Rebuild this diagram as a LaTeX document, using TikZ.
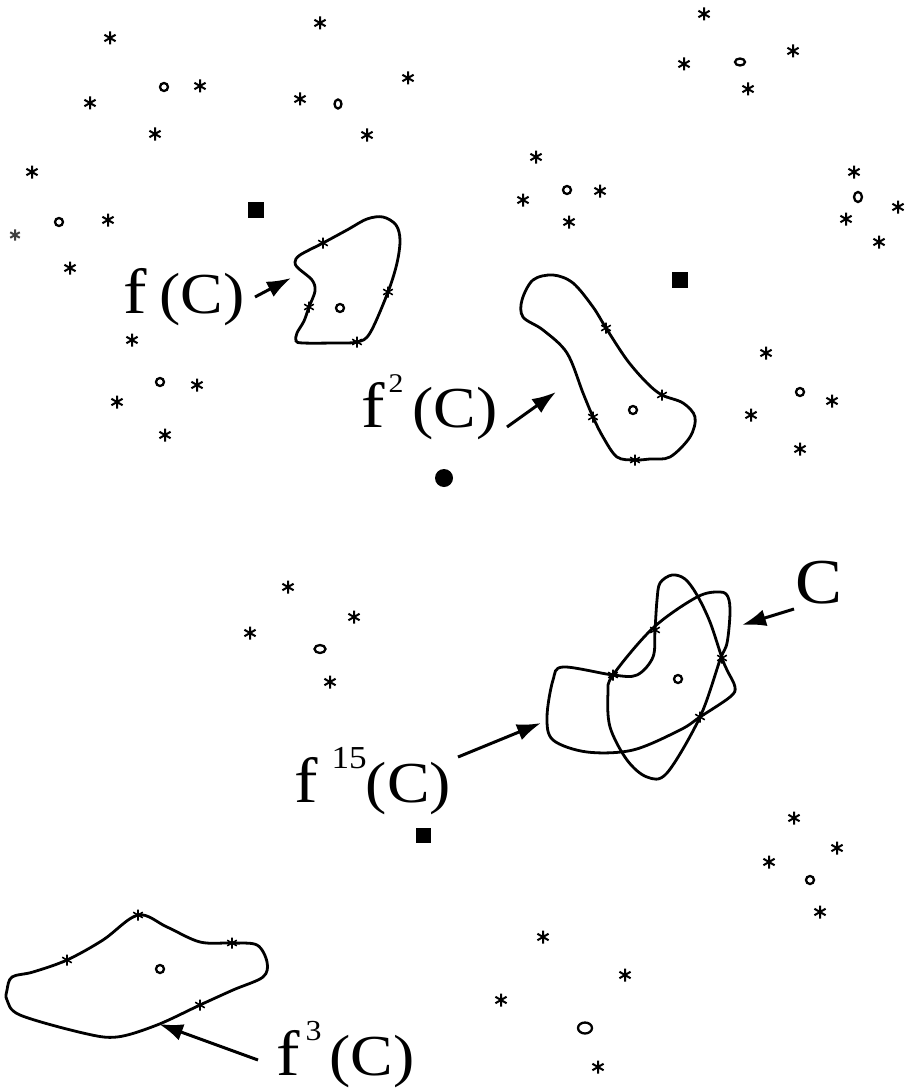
\documentclass[tikz,border=0pt]{standalone}
\usepackage{fontspec}
\setmainfont{Liberation Serif}
\newfontfamily\labfont[FakeStretch=1.1]{Liberation Serif}
\usetikzlibrary{arrows.meta,shapes.geometric}
\newcommand\bigf{{\fontsize{64}{64}\selectfont f}}
\tikzset{
 astk/.pic={\draw[line width=2pt] (0,-6.5)--(0,6.5) (-5.6,-3.25)--(5.6,3.25) (-5.6,3.25)--(5.6,-3.25);},
 castk/.pic={\draw[line width=1.6pt] (0,-5.5)--(0,5.5) (-4.8,-2.75)--(4.8,2.75) (-4.8,2.75)--(4.8,-2.75);},
 orb/.style={draw, line width=2.3pt, ellipse, inner sep=0pt, minimum width=8pt, minimum height=8pt},
 sq/.style={fill=black, inner sep=0pt, minimum size=16pt},
 setline/.style={line width=2.8pt},
 lab/.style={inner sep=0pt, anchor=base west, font=\labfont\fontsize{58}{60}\selectfont},
 arr/.style={line width=3pt, -{Latex[length=24pt,width=17pt]}},
}
\begin{document}
\begin{tikzpicture}[x=1pt,y=-1pt]
\useasboundingbox (0,0) rectangle (907,1089);

% ---- scattered asterisks ----
\foreach \p in {(110,38),(90,103),(200,86),(155,134),
  (320,23),(300,99),(408,78),(367,135),
  (704,14),(684,64),(793,51),(748,89),
  (32,172),(108,220),(70,268),
  (536,157),(523,200),(600,191),(569,222),
  (854,172),(898,207),(846,219),(879,242),
  (132,340),(117,402),(197,385),(165,435),
  (766,353),(751,415),(832,401),(800,449),
  (288,587),(250,633),(354,617),(330,682),
  (794,818),(769,862),(837,848),(820,912),
  (543,937),(625,975),(501,1000),(598,1067)}
  \pic at \p {astk};
\pic[scale=0.85, opacity=0.75] at (15,235) {astk};

% ---- small open circles ----
\node[orb] (o1) at (164,87) {};
\node[orb, minimum width=7pt, minimum height=9pt] (o2) at (338,104) {};
\node[orb, minimum width=10pt, minimum height=7pt] (o3) at (740,62) {};
\node[orb] (o4) at (59,222) {};
\node[orb] (o5) at (567,190) {};
\node[orb, minimum width=8pt, minimum height=10pt] (o6) at (858,197) {};
\node[orb] (o7) at (160,382) {};
\node[orb] (o8) at (800,392) {};
\node[orb, minimum width=11pt, minimum height=8pt] (o9) at (320,649) {};
\node[orb] (o10) at (810,880) {};
\node[orb, minimum width=14pt, minimum height=11pt] (o11) at (585,1028) {};

% ---- filled markers ----
\node[sq] (s1) at (256,210) {};
\node[sq] (s2) at (680,280) {};
\node[sq, minimum size=15pt] (s3) at (423,835) {};
\node[fill=black, circle, inner sep=0pt, minimum size=18pt] (d1) at (444,478) {};

% ---- f(C) ----
\draw[setline] plot[smooth cycle, tension=0.55] coordinates {
 (323,243) (300,255) (295,262) (298,268) (312,280) (315,291) (309,307)
 (304,321) (297,333) (296,341) (303,343) (333,343) (357,342) (370,333)
 (388,292) (397,263) (400,240) (396,225) (383,217) (367,219) (347,230)};
\foreach \p in {(323,243),(309,307),(388,292),(357,342)} \pic at \p {castk};
\node[orb] (c1) at (340,308) {};

% ---- f^2(C) ----
\draw[setline] plot[smooth cycle, tension=0.55] coordinates {
 (553,275) (573,283) (593,307) (606,328) (627,360) (647,383) (662,395)
 (683,403) (695,417) (690,437) (670,457) (650,459) (635,460) (617,457)
 (603,437) (593,417) (583,393) (567,353) (543,330) (523,317) (522,300) (533,280)};
\foreach \p in {(606,328),(662,395),(635,460),(593,417)} \pic at \p {castk};
\node[orb] (c2) at (633,410) {};

% ---- f^3(C) ----
\draw[setline] plot[smooth cycle, tension=0.55] coordinates {
 (7,990) (12,977) (33,972) (67,960) (103,940) (138,915) (167,927) (200,942)
 (232,943) (257,945) (267,962) (263,977) (233,990) (200,1005) (157,1025)
 (117,1037) (83,1033) (20,1015) (7,1000)};
\foreach \p in {(67,960),(138,915),(232,943),(200,1005)} \pic at \p {castk};
\node[orb] (c3) at (160,969) {};

% ---- f^15(C) ----
\draw[setline] plot[smooth cycle, tension=0.55] coordinates {
 (660,583) (672,575) (685,579) (697,595) (710,622) (722,658) (727,670) (735,687) (730,697)
 (700,717) (680,730) (633,750) (587,752) (553,740) (547,717) (553,680)
 (563,667) (613,675) (637,675) (653,657) (655,630) (657,600)};
% ---- C ----
\draw[setline] plot[smooth cycle, tension=0.55] coordinates {
 (613,675) (608,693) (610,727) (627,760) (647,777) (667,773) (700,717)
 (720,660) (727,643) (730,613) (728,597) (720,592) (697,597) (653,628)};
\foreach \p in {(613,675),(655,630),(722,658),(700,717)} \pic at \p {castk};
\node[orb] (c4) at (678,679) {};

% ---- labels ----
\node[lab] (l1) at (123,313) {\bigf\hspace{13pt}(C)};
\node[lab] (l2) at (361,427) {\bigf\hspace{4pt}\raisebox{35pt}{\fontsize{27}{27}\selectfont 2}\hspace{9pt}(C)};
\node[lab] (l15) at (294,802) {\bigf\hspace{14pt}\raisebox{34pt}{\fontsize{32}{32}\selectfont 15}\hspace{-1pt}(C)};
\node[lab] (l3) at (276,1075) {\bigf\hspace{6pt}\raisebox{35pt}{\fontsize{29}{29}\selectfont 3}\hspace{8pt}(C)};
\node[lab, font=\labfont\fontsize{64}{64}\selectfont] (lc) at (795,603) {C};

% ---- arrows ----
\coordinate (a1t) at (255,297); \coordinate (a1h) at (291,278);
\coordinate (a2t) at (507,427); \coordinate (a2h) at (556,392);
\coordinate (a15t) at (458,757); \coordinate (a15h) at (541,723);
\coordinate (a3t) at (258,1060); \coordinate (a3h) at (159,1024);
\coordinate (act) at (794,609); \coordinate (ach) at (742,625);
\draw[arr] (a1t) -- (a1h);
\draw[arr] (a2t) -- (a2h);
\draw[arr] (a15t) -- (a15h);
\draw[arr] (a3t) -- (a3h);
\draw[arr] (act) -- (ach);
\end{tikzpicture}
\end{document}
